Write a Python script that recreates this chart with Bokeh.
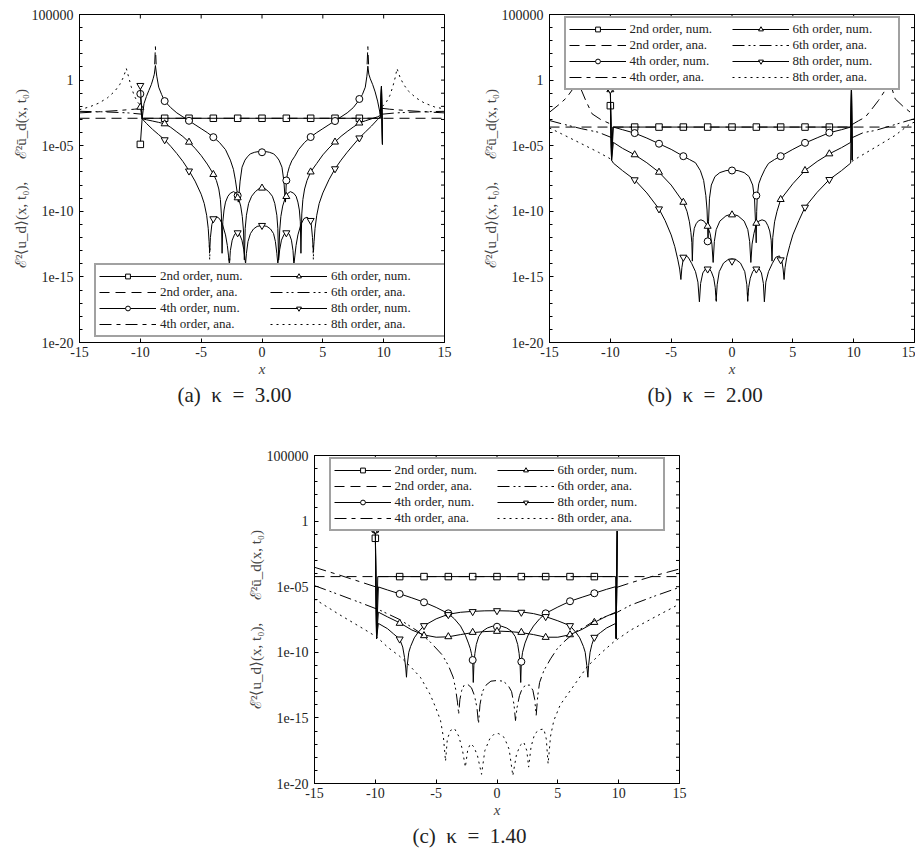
import numpy as np
from bokeh.plotting import figure
from bokeh.layouts import column, row
from bokeh.models import (FixedTicker, Legend, LegendItem, Spacer, Range1d, CustomJSTickFormatter)
from bokeh.embed import file_html
from bokeh.resources import INLINE

# ---------------- data: (x, log10(error)) pairs; None = break ----------------
MX = [-10, -8, -6, -4, -2, 0, 2, 4, 6, 8]
X_TICKS = [-15, -10, -5, 0, 5, 10, 15]
Y_TICKS = [1e5, 1.0, 1e-5, 1e-10, 1e-15, 1e-20]
Y_MINOR = [10.0 ** k for k in range(-20, 6)]
LABELS = ["2nd order, num.", "2nd order, ana.", "4th order, num.", "4th order, ana.",
          "6th order, num.", "6th order, ana.", "8th order, num.", "8th order, ana."]

# ---- panel (a) kappa = 3.00
A_N2 = [(-10, -4.9), (-9.85, -2.91), (9.75, -2.91), (9.82, -0.47), (9.9, -4.9)]
A_A2 = [(-15, -2.91), (15, -2.91)]
A_N4 = [(-10, -1.05), (-9.85, -2.95), (-9.7, -1.8), (-9.5, -1.25), (-9.3, -0.79), (-9.1, -0.35),
        (-8.95, 0.1), (-8.85, 0.45), (-8.76, 1.11), (-8.65, 0.3), (-8.49, -0.54), (-8.25, -1.1),
        (-8.0, -1.6), (-7.5, -2.1), (-7.0, -2.5), (-6.5, -2.8), (-6.0, -3.1), (-5.5, -3.4),
        (-5.0, -3.7), (-4.5, -4.0), (-4.0, -4.35), (-3.5, -4.75), (-3.0, -5.3), (-2.6, -6.1),
        (-2.35, -6.8), (-2.19, -7.6), (-2.08, -8.3), (-2.0, -8.8), (-1.95, -9.3), (-1.9, -8.8),
        (-1.8, -7.7), (-1.64, -6.64), (-1.4, -6.1), (-1.2, -5.85), (-0.96, -5.62), (-0.6, -5.5),
        (-0.3, -5.45), (0, -5.42), (0.3, -5.45), (0.6, -5.5), (0.96, -5.62), (1.2, -5.85),
        (1.4, -6.1), (1.64, -6.64), (1.8, -7.7), (1.88, -8.8), (1.93, -9.3), (2.0, -7.7),
        (2.1, -7.1), (2.25, -6.6), (2.45, -6.15), (2.7, -5.8), (3.0, -5.3), (3.5, -4.75),
        (4.0, -4.34), (4.5, -4.0), (5.0, -3.7), (5.5, -3.4), (6.0, -3.1), (6.5, -2.8), (7.0, -2.5),
        (7.5, -2.1), (8.0, -1.5), (8.25, -1.1), (8.49, -0.54), (8.62, 0.3), (8.7, 1.06),
        (8.78, 0.45), (8.9, 0.1), (9.1, -0.35), (9.3, -0.9), (9.5, -1.6), (9.72, -2.6),
        (9.82, -0.47), (9.9, -4.9)]
A_A4 = [(-15, -2.5), (-13.5, -2.42), (-12, -2.33), (-10.5, -2.22), (-9.85, -2.15), None,
        (-8.82, 1.2), (-8.76, 2.55), (-8.7, 1.2), None,
        (8.64, 1.2), (8.7, 2.55), (8.76, 1.2), None,
        (9.85, -2.15), (10.5, -2.22), (12, -2.33), (13.5, -2.42), (15, -2.5)]
A_N6 = [(-10, -2.07), (-9.85, -2.95), (-9.5, -3.02), (-9.0, -3.12), (-8.5, -3.22), (-8.0, -3.33),
        (-7.5, -3.6), (-7.0, -3.95), (-6.5, -4.3), (-6.0, -4.73), (-5.5, -5.2), (-5.0, -5.75),
        (-4.5, -6.4), (-4.0, -7.15), (-3.75, -7.65), (-3.55, -8.3), (-3.42, -9.1), (-3.34, -10.2),
        (-3.28, -13.2), (-3.22, -10.8), (-3.12, -9.9), (-3.0, -9.3), (-2.8, -8.85), (-2.6, -8.62),
        (-2.33, -8.5), (-2.1, -8.65), (-1.92, -9.05), (-1.75, -9.6), (-1.62, -10.4), (-1.52, -11.5),
        (-1.45, -13.7), (-1.38, -11.3), (-1.28, -10.3), (-1.1, -9.4), (-0.85, -8.85), (-0.55, -8.5),
        (-0.25, -8.28), (0, -8.21), (0.25, -8.28), (0.55, -8.5), (0.85, -8.85), (1.05, -9.4),
        (1.22, -10.3), (1.3, -11.3), (1.37, -13.7), (1.45, -11.5), (1.55, -10.4), (1.7, -9.6),
        (1.9, -9.0), (2.1, -8.65), (2.33, -8.5), (2.6, -8.62), (2.8, -8.85), (2.95, -9.3),
        (3.07, -9.9), (3.15, -10.8), (3.2, -13.2), (3.27, -10.2), (3.36, -9.1), (3.5, -8.3),
        (3.7, -7.65), (4.0, -7.0), (4.5, -6.35), (5.0, -5.7), (5.5, -5.18), (6.0, -4.72),
        (6.5, -4.28), (7.0, -3.92), (7.5, -3.58), (8.0, -3.27), (8.5, -3.1), (9.0, -2.95),
        (9.5, -2.8), (9.72, -2.7), (9.82, -0.47), (9.9, -4.9)]
A_A6 = [(-15, -2.38), (-13, -2.42), (-11, -2.5), (-9.85, -2.6), None,
        (9.85, -2.6), (11, -2.5), (13, -2.42), (15, -2.38)]
A_N8 = [(-10, -0.41), (-9.85, -2.95), (-9.5, -3.3), (-9.0, -3.75), (-8.5, -4.15), (-8.0, -4.55),
        (-7.5, -5.05), (-7.0, -5.6), (-6.5, -6.2), (-6.0, -6.9), (-5.5, -7.7), (-5.0, -8.7),
        (-4.75, -9.4), (-4.55, -10.3), (-4.42, -11.3), (-4.35, -12.3), (-4.3, -13.1), (-4.24, -12.0),
        (-4.12, -11.0), (-3.95, -10.55), (-3.75, -10.4), (-3.5, -10.55), (-3.25, -11.0),
        (-3.0, -11.8), (-2.85, -12.6), (-2.75, -13.4), (-2.68, -14.1), (-2.6, -13.0),
        (-2.45, -12.2), (-2.25, -11.75), (-2.05, -11.62), (-1.85, -11.75), (-1.65, -12.2),
        (-1.5, -12.9), (-1.4, -13.6), (-1.35, -14.0), (-1.28, -13.2), (-1.15, -12.3),
        (-0.95, -11.7), (-0.7, -11.35), (-0.4, -11.15), (0, -11.08), (0.4, -11.15), (0.7, -11.35),
        (0.95, -11.7), (1.1, -12.3), (1.22, -13.2), (1.3, -14.0), (1.36, -13.6), (1.46, -12.9),
        (1.6, -12.2), (1.82, -11.75), (2.05, -11.62), (2.25, -11.75), (2.42, -12.2), (2.55, -13.0),
        (2.62, -14.1), (2.7, -13.4), (2.8, -12.6), (2.95, -11.8), (3.2, -11.0), (3.45, -10.55),
        (3.7, -10.45), (3.9, -10.6), (4.05, -11.0), (4.15, -12.0), (4.22, -13.1), (4.28, -12.3),
        (4.36, -11.3), (4.5, -10.3), (4.7, -9.4), (5.0, -8.6), (5.5, -7.6), (6.0, -6.76),
        (6.5, -6.1), (7.0, -5.5), (7.5, -4.95), (8.0, -4.41), (8.5, -3.95), (9.0, -3.5),
        (9.5, -3.0), (9.72, -2.8), (9.82, -0.47), (9.9, -4.9)]
A_A8 = [(-15, -2.25), (-14.2, -2.05), (-13.4, -1.75), (-12.7, -1.35), (-12.1, -0.85), (-11.7, -0.35),
        (-11.4, 0.2), (-11.15, 0.88), (-10.95, 0.2), (-10.75, -0.5), (-10.5, -1.2), (-10.2, -1.7),
        (-9.9, -2.0), None,
        (-4.33, -12.6), (-4.3, -13.7), (-4.27, -12.6), None,
        (-2.71, -13.6), (-2.68, -15.5), (-2.65, -13.6), None,
        (2.59, -13.6), (2.62, -15.5), (2.65, -13.6), None,
        (4.19, -12.6), (4.22, -13.7), (4.25, -12.6), None,
        (9.9, -2.0), (10.2, -1.7), (10.5, -1.2), (10.75, -0.5), (10.95, 0.2), (11.1, 0.88),
        (11.35, 0.2), (11.65, -0.35), (12.05, -0.85), (12.65, -1.35), (13.35, -1.75),
        (14.2, -2.05), (15, -2.2)]
A_M2 = [-4.9, -2.91, -2.91, -2.91, -2.91, -2.91, -2.91, -2.91, -2.91, -2.91]
A_M4 = [-1.05, -1.6, -3.1, -4.35, -8.8, -5.5, -7.65, -4.34, -3.12, -1.44]
A_M6 = [-2.07, -3.33, -4.73, -7.19, -8.97, -8.23, -8.87, -7.0, -4.72, -3.27]
A_M8 = [-0.41, -4.55, -6.93, -10.57, -11.64, -11.08, -11.64, -10.7, -6.76, -4.41]

# ---- panel (b) kappa = 2.00
B_N2 = [(-10, -1.95), (-9.9, -6.1), (-9.8, -3.58), (9.75, -3.58), (9.82, -0.52), (9.88, -6.1)]
B_A2 = [(-15, -3.58), (15, -3.58)]
B_N4 = [(-10, -0.47), (-9.9, -6.1), (-9.75, -3.58), (-9.0, -3.78), (-8.0, -4.04), (-7.0, -4.42),
        (-6.0, -4.85), (-5.0, -5.28), (-4.0, -5.8), (-3.5, -6.05), (-3.0, -6.3), (-2.6, -6.9),
        (-2.33, -7.65), (-2.15, -8.8), (-2.05, -9.9), (-2.0, -11.2), (-1.97, -12.5), (-1.93, -10.8),
        (-1.85, -9.0), (-1.7, -8.0), (-1.4, -7.35), (-1.0, -7.05), (-0.5, -6.9), (0, -6.85),
        (0.5, -6.9), (1.0, -7.05), (1.4, -7.35), (1.7, -8.0), (1.85, -9.0), (1.93, -10.8),
        (1.99, -12.4), (2.03, -10.0), (2.08, -8.8), (2.2, -7.9), (2.4, -7.4), (2.7, -6.8),
        (3.0, -6.35), (3.5, -6.05), (4.0, -5.8), (5.0, -5.28), (6.0, -4.8), (7.0, -4.4),
        (8.0, -4.01), (9.0, -3.78), (9.75, -3.58), (9.82, -0.52), (9.88, -6.1)]
B_A4 = [(-15, -2.45), (-14.2, -1.85), (-13.6, -1.35), (-13.1, -0.7), (-12.85, -0.1), (-12.72, 1.0),
        (-12.6, -0.1), (-12.48, -0.54), (-12.0, -1.6), (-11.5, -2.57), (-10.8, -3.0),
        (-9.85, -3.4), None,
        (9.85, -3.4), (10.4, -3.1), (10.95, -2.83), (11.5, -2.2), (12.04, -1.55), (12.5, -0.9),
        (12.75, -0.2), (12.87, 1.0), (13.0, -0.2), (13.41, -1.43), (14.0, -1.95), (14.65, -2.45),
        (15, -2.6)]
B_N6 = [(-10, -0.73), (-9.9, -6.1), (-9.75, -4.75), (-9.0, -5.2), (-8.0, -5.69), (-7.0, -6.3),
        (-6.0, -7.02), (-5.0, -8.0), (-4.0, -9.31), (-3.7, -10.0), (-3.5, -10.8), (-3.38, -11.6),
        (-3.3, -12.4), (-3.26, -13.8), (-3.2, -12.0), (-3.1, -11.3), (-2.95, -10.95),
        (-2.75, -10.72), (-2.55, -10.65), (-2.3, -10.75), (-2.0, -11.14), (-1.8, -11.7),
        (-1.65, -12.5), (-1.55, -13.9), (-1.45, -12.3), (-1.3, -11.4), (-1.0, -10.75),
        (-0.5, -10.35), (0, -10.2), (0.5, -10.35), (1.0, -10.75), (1.3, -11.4), (1.45, -12.3),
        (1.55, -13.9), (1.65, -12.5), (1.8, -11.7), (2.0, -10.95), (2.2, -10.75), (2.47, -10.65),
        (2.75, -10.75), (2.95, -11.1), (3.1, -11.5), (3.22, -12.2), (3.29, -13.8), (3.35, -12.0),
        (3.5, -10.8), (3.7, -10.0), (4.0, -9.1), (5.0, -7.9), (6.0, -6.89), (7.0, -6.2),
        (8.0, -5.62), (9.0, -5.15), (9.75, -4.75), (9.82, -0.52), (9.88, -6.1)]
B_A6 = [(-15, -3.08), (-14, -3.33), (-12.35, -3.71), (-11, -3.97), (-9.85, -4.4), None,
        (9.85, -4.4), (10.8, -4.0), (11.77, -3.84), (13, -3.5), (14.5, -3.08), (15, -2.95)]
B_N8 = [(-10, -0.73), (-9.9, -6.1), (-9.75, -6.33), (-9.0, -6.9), (-8.0, -7.6), (-7.0, -8.6),
        (-6.0, -9.82), (-5.5, -10.7), (-5.0, -11.8), (-4.7, -12.7), (-4.45, -13.7), (-4.3, -14.4),
        (-4.2, -15.2), (-4.12, -14.3), (-4.0, -13.6), (-3.83, -13.37), (-3.6, -13.5), (-3.3, -14.0),
        (-3.0, -14.6), (-2.8, -15.4), (-2.68, -16.9), (-2.58, -15.5), (-2.4, -14.7),
        (-2.15, -14.35), (-1.92, -14.3), (-1.7, -14.6), (-1.5, -15.1), (-1.38, -15.8),
        (-1.3, -16.8), (-1.22, -15.6), (-1.05, -14.6), (-0.7, -13.95), (-0.35, -13.7), (0, -13.62),
        (0.35, -13.7), (0.7, -13.95), (1.05, -14.6), (1.22, -15.6), (1.29, -16.8), (1.37, -15.8),
        (1.5, -15.1), (1.7, -14.6), (1.95, -14.3), (2.2, -14.35), (2.42, -14.7), (2.58, -15.5),
        (2.66, -16.9), (2.78, -15.4), (3.0, -14.6), (3.3, -14.0), (3.6, -13.5), (3.9, -13.4),
        (4.1, -13.8), (4.2, -14.4), (4.28, -15.2), (4.36, -14.3), (4.5, -13.5), (4.75, -12.6),
        (5.0, -11.8), (5.5, -10.7), (6.0, -9.69), (7.0, -8.55), (8.0, -7.58), (9.0, -6.9),
        (9.75, -6.33), (9.82, -0.52), (9.88, -6.1)]
B_A8 = [(-15, -3.65), (-14, -4.1), (-12.35, -4.86), (-10.98, -5.5), (-10.0, -6.0), (-9.85, -6.2), None,
        (-1.31, -16.2), (-1.29, -17.0), (-1.27, -16.2), None,
        (1.27, -16.2), (1.29, -17.0), (1.31, -16.2), None,
        (9.85, -6.2), (10.4, -5.88), (12, -5.0), (13.4, -4.22), (14.65, -3.33), (15, -3.2)]
B_M2 = [-1.95, -3.58, -3.58, -3.58, -3.58, -3.58, -3.58, -3.58, -3.58, -3.58]
B_M4 = [-0.47, -4.04, -4.85, -5.8, -12.29, -6.89, -8.8, -5.8, -4.78, -4.01]
B_M6 = [-0.73, -5.69, -7.02, -9.31, -11.14, -10.27, -10.91, -9.1, -6.89, -5.62]
B_M8 = [-0.73, -7.6, -9.82, -13.5, -14.4, -13.8, -14.4, -13.7, -9.69, -7.58]

# ---- panel (c) kappa = 1.40
C_N2 = [(-10, -1.31), (-9.9, -8.95), (-9.8, -4.23), (9.75, -4.23), (9.8, -8.95), (9.88, -0.6)]
C_A2 = [(-15, -4.23), (15, -4.23)]
C_N4 = [(-10, -0.67), (-9.9, -8.95), (-9.75, -5.02), (-9.0, -5.25), (-8.0, -5.54), (-7.0, -5.85),
        (-6.0, -6.18), (-5.0, -6.58), (-4.0, -7.05), (-3.5, -7.45), (-3.0, -8.0), (-2.6, -8.7),
        (-2.35, -9.3), (-2.2, -9.7), (-2.1, -10.1), (-2.0, -10.6), (-1.95, -12.3), (-1.9, -11.0),
        (-1.82, -10.1), (-1.7, -9.4), (-1.5, -8.8), (-1.2, -8.4), (-0.8, -8.15), (-0.4, -8.02),
        (0, -7.98), (0.4, -8.02), (0.8, -8.15), (1.2, -8.4), (1.5, -8.8), (1.7, -9.4), (1.82, -10.1),
        (1.9, -11.0), (1.95, -12.3), (2.0, -10.7), (2.1, -10.0), (2.3, -9.3), (2.6, -8.6),
        (3.0, -8.0), (3.5, -7.45), (4.0, -7.03), (5.0, -6.55), (6.0, -6.11), (7.0, -5.8),
        (8.0, -5.5), (9.0, -5.2), (9.75, -5.0), (9.8, -8.95), (9.88, -0.6)]
C_A4 = [(-15, -3.52), (-13, -4.1), (-11, -4.7), (-9.85, -5.05), None,
        (9.85, -5.05), (11, -4.7), (13, -4.15), (15, -3.65)]
C_N6 = [(-10, -0.67), (-9.9, -8.95), (-9.75, -6.94), (-9.0, -7.3), (-8.0, -7.75), (-7.0, -8.3),
        (-6.0, -8.68), (-5.0, -8.85), (-4.0, -8.82), (-3.0, -8.65), (-2.0, -8.5), (-1.0, -8.42),
        (0, -8.38), (1.0, -8.42), (2.0, -8.5), (3.0, -8.65), (4.0, -8.85), (5.0, -8.85),
        (6.0, -8.66), (7.0, -8.25), (8.0, -7.72), (9.0, -7.25), (9.75, -6.95), (9.8, -8.95),
        (9.88, -0.6)]
C_A6 = [(-15, -4.92), (-13, -5.6), (-11, -6.3), (-9.6, -6.8), (-8, -7.5), (-6.5, -8.4), (-5.5, -9.2),
        (-4.5, -10.2), (-4.0, -11.0), (-3.6, -11.9), (-3.4, -12.8), (-3.25, -13.8), (-3.15, -14.7),
        (-3.05, -13.6), (-2.9, -12.9), (-2.7, -12.5), (-2.4, -12.45), (-2.1, -12.7), (-1.85, -13.3),
        (-1.65, -14.2), (-1.52, -15.45), (-1.4, -14.0), (-1.2, -13.0), (-0.9, -12.5), (-0.5, -12.2),
        (0, -12.15), (0.5, -12.2), (0.9, -12.5), (1.2, -13.0), (1.4, -14.0), (1.52, -15.2),
        (1.65, -14.2), (1.85, -13.3), (2.1, -12.7), (2.4, -12.5), (2.7, -12.5), (2.95, -12.9),
        (3.1, -13.6), (3.22, -14.8), (3.35, -13.3), (3.5, -12.3), (3.85, -11.4), (4.4, -10.5),
        (4.95, -9.73), (5.5, -9.2), (6.5, -8.4), (7.14, -8.1), (8, -7.6), (9.88, -6.95),
        (11, -6.4), (13, -5.7), (15, -5.05)]
C_N8 = [(-10, -0.67), (-9.9, -8.95), (-9.75, -7.8), (-9.0, -8.2), (-8.5, -8.6), (-8.0, -8.99),
        (-7.75, -9.6), (-7.6, -10.4), (-7.5, -11.2), (-7.44, -11.9), (-7.38, -11.0), (-7.25, -10.0),
        (-7.1, -9.55), (-6.8, -8.9), (-6.5, -8.5), (-6.0, -7.97), (-5.0, -7.45), (-4.0, -7.1),
        (-3.0, -6.95), (-2.0, -6.88), (-1.0, -6.84), (0, -6.83), (1.0, -6.85), (2.0, -6.92),
        (3.0, -7.05), (4.0, -7.28), (5.0, -7.6), (6.0, -7.97), (6.5, -8.5), (6.8, -8.9),
        (7.1, -9.55), (7.25, -10.0), (7.38, -11.0), (7.47, -11.9), (7.53, -11.0), (7.65, -10.0),
        (7.8, -9.4), (8.0, -8.86), (8.5, -8.5), (9.0, -8.15), (9.75, -7.8), (9.8, -8.95),
        (9.88, -0.6)]
C_A8 = [(-15, -5.94), (-13, -7.1), (-11, -8.2), (-9.85, -8.85), (-9, -9.6), (-8, -10.3),
        (-7.1, -11.1), (-6.3, -11.9), (-5.5, -13.2), (-5.0, -14.3), (-4.64, -15.2), (-4.4, -16.5),
        (-4.23, -18.3), (-4.08, -16.6), (-3.82, -15.96), (-3.5, -15.8), (-3.14, -16.4),
        (-2.85, -17.4), (-2.6, -18.75), (-2.4, -17.4), (-2.18, -16.97), (-1.9, -17.2),
        (-1.6, -17.9), (-1.27, -19.3), (-1.0, -17.5), (-0.6, -16.6), (-0.2, -16.2), (0.15, -16.2),
        (0.6, -16.5), (1.0, -17.4), (1.3, -19.4), (1.6, -17.8), (1.9, -17.1), (2.2, -16.85),
        (2.45, -17.5), (2.6, -18.75), (2.8, -17.2), (3.1, -16.2), (3.5, -15.9), (3.85, -15.85),
        (4.05, -16.6), (4.2, -18.5), (4.4, -16.4), (4.67, -15.2), (5.2, -14.0), (6.04, -12.9),
        (7.41, -11.1), (8.5, -10.1), (9.6, -9.2), (11, -8.3), (13, -7.3), (15, -6.32)]
C_M2 = [-1.31, -4.23, -4.23, -4.23, -4.23, -4.23, -4.23, -4.23, -4.23, -4.23]
C_M4 = [-0.67, -5.55, -6.19, -7.03, -10.59, -8.05, -10.72, -7.03, -6.11, -5.5]
C_M6 = [-0.67, -7.79, -8.73, -8.81, -8.48, -8.4, -8.48, -8.86, -8.66, -7.72]
C_M8 = [-0.67, -8.99, -7.97, -7.13, -6.9, -6.83, -6.95, -7.28, -7.97, -8.86]

# ---------------- styling ----------------
FONT = "Liberation Serif"
DASH = {"2": "10 6", "4": "12 5 4 5", "6": "12 4 2 3 2 4", "8": "2 4"}
MARK = {"2": ("square", 6.5), "4": ("circle", 7), "6": ("triangle", 7), "8": ("inverted_triangle", 7)}
SP = "\u2002"   # en space (not collapsed in SVG text)


def xy(pairs):
    xs = [np.nan if p is None else p[0] for p in pairs]
    ys = [np.nan if p is None else 10.0 ** p[1] for p in pairs]
    return xs, ys


def panel(caption, num, ana, marks, leg_loc, leg_margin, leg_lw, width, height, mbl, mbr, mbt, mbb):
    p = figure(width=width, height=height, x_range=Range1d(-15, 15),
               y_range=Range1d(1e-20, 1e5), y_axis_type="log",
               output_backend="svg", toolbar_location=None,
               title=caption, title_location="below",
               min_border_left=mbl, min_border_right=mbr,
               min_border_top=mbt, min_border_bottom=mbb)
    p.background_fill_color = "white"
    p.border_fill_color = "white"
    p.outline_line_color = "black"
    p.outline_line_width = 1
    p.xgrid.visible = False
    p.ygrid.visible = False

    p.xaxis.ticker = FixedTicker(ticks=X_TICKS)
    p.yaxis.ticker = FixedTicker(ticks=Y_TICKS, minor_ticks=Y_MINOR)
    p.xaxis.formatter = CustomJSTickFormatter(code="return tick.toFixed(0);")
    p.yaxis.formatter = CustomJSTickFormatter(code="""
        const e = Math.round(Math.log10(tick));
        if (e == 0) return "1";
        if (e > 0) return String(Math.round(tick));
        return "1e-" + String(-e).padStart(2, "0");
    """)
    for ax in (p.xaxis[0], p.yaxis[0]):
        ax.major_tick_in = 4
        ax.major_tick_out = 0
        ax.minor_tick_in = 3
        ax.minor_tick_out = 0
        ax.major_label_text_font = FONT
        ax.major_label_text_font_size = "14px"
        ax.major_label_text_color = "#222"
        ax.axis_line_color = "black"
        ax.axis_label_text_font = FONT
        ax.axis_label_text_font_size = "15px"
        ax.axis_label_text_color = "#444"
    p.xaxis.major_label_standoff = 4
    p.yaxis.major_label_standoff = 6
    p.xaxis.axis_label = "x"
    p.xaxis.axis_label_text_font_style = "italic"
    p.xaxis.axis_label_standoff = 1
    p.yaxis.axis_label = "ℰ²⟨u_d⟩(x, t₀)," + SP * 3 + "ℰ²ū_d(x, t₀)"
    p.yaxis.axis_label_text_font_style = "normal"
    p.yaxis.axis_label_standoff = 0

    # mirrored tick marks on the top and right frame edges (half clipped by the frame)
    p.scatter(X_TICKS, [1e5] * len(X_TICKS), marker="dash", angle=np.pi / 2, size=8,
              line_color="black", line_width=1)
    p.scatter([15] * len(Y_MINOR), Y_MINOR, marker="dash", size=7,
              line_color="black", line_width=1)

    p.title.align = "left"
    p.title.offset = 98
    p.title.standoff = 2
    p.title.text_font = FONT
    p.title.text_font_size = "21px"
    p.title.text_font_style = "normal"
    p.title.text_color = "#222"

    items = {}
    for key in ("2", "4", "6", "8"):
        x, y = xy(num[key])
        ln = p.line(x, y, line_color="black", line_width=1)
        m, s = MARK[key]
        sc = p.scatter(MX, [10.0 ** v for v in marks[key]], marker=m, size=s,
                       fill_color="white", line_color="black", line_width=1)
        items["N" + key] = [ln, sc]
        xa, ya = xy(ana[key])
        la = p.line(xa, ya, line_color="black", line_width=1, line_dash=DASH[key])
        items["A" + key] = [la]

    order = ["N2", "A2", "N4", "A4", "N6", "A6", "N8", "A8"]
    leg = Legend(items=[LegendItem(label=LABELS[i], renderers=items[k]) for i, k in enumerate(order)],
                 location=leg_loc, ncols=2)
    leg.label_text_font = FONT
    leg.label_text_font_size = "13px"
    leg.label_text_color = "#222"
    leg.glyph_width = 57
    leg.glyph_height = 12
    leg.label_height = 12
    leg.label_width = leg_lw
    leg.label_standoff = 4
    leg.spacing = 0
    leg.padding = 3
    leg.margin = leg_margin
    leg.border_line_color = "#444"
    leg.border_line_width = 2
    leg.background_fill_color = "white"
    leg.background_fill_alpha = 1.0
    p.add_layout(leg, "center")
    return p


pa = panel("(a)" + SP + "κ" + SP + "=" + SP + "3.00",
           {"2": A_N2, "4": A_N4, "6": A_N6, "8": A_N8},
           {"2": A_A2, "4": A_A4, "6": A_A6, "8": A_A8},
           {"2": A_M2, "4": A_M4, "6": A_M6, "8": A_M8},
           (15, 5), 0, 110, 458, 410, 79, 14, 14, 68)
pb = panel("(b)" + SP + "κ" + SP + "=" + SP + "2.00",
           {"2": B_N2, "4": B_N4, "6": B_N6, "8": B_N8},
           {"2": B_A2, "4": B_A4, "6": B_A6, "8": B_A8},
           {"2": B_M2, "4": B_M4, "6": B_M6, "8": B_M8},
           "top_center", 2, 102, 457, 410, 91, 1, 14, 68)
pc = panel("(c)" + SP + "κ" + SP + "=" + SP + "1.40",
           {"2": C_N2, "4": C_N4, "6": C_N6, "8": C_N8},
           {"2": C_A2, "4": C_A4, "6": C_A6, "8": C_A8},
           {"2": C_M2, "4": C_M4, "6": C_M6, "8": C_M8},
           "top_center", 2, 102, 458, 439, 79, 14, 45, 66)

layout = column(row(pa, pb), row(Spacer(width=235, height=439), pc))
open("out.html", "w").write(file_html(layout, INLINE))
